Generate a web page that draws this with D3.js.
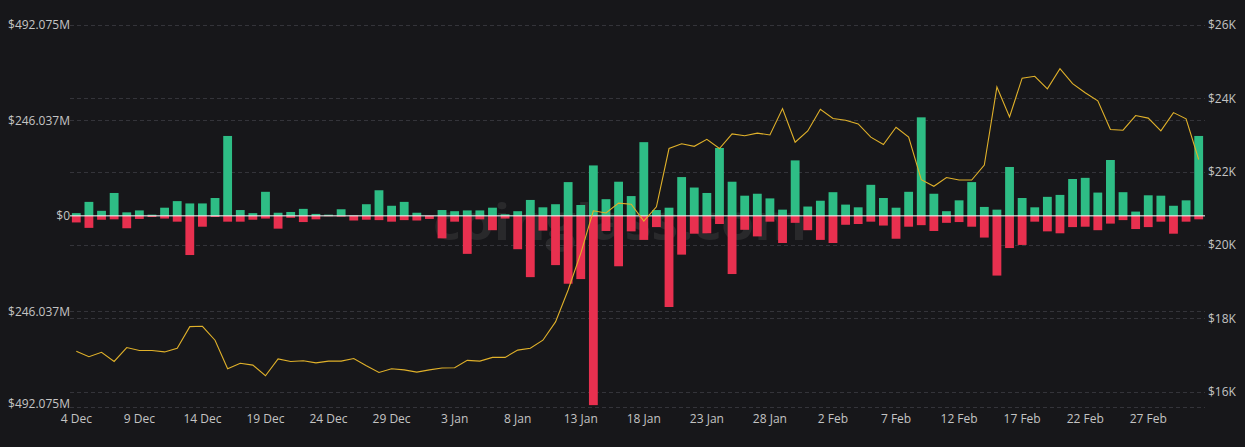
<!DOCTYPE html>
<html>
<head>
<meta charset="utf-8">
<script src="https://cdn.jsdelivr.net/npm/d3@7"></script>
<style>
  body { margin: 0; background: #17171a; }
  svg { display: block; }
</style>
</head>
<body>
<svg id="chart"></svg>
<script>
// daily flows (millions USD) and price (thousands USD), 4 Dec -> 3 Mar
const inflow = [7,36,13,59,9,14,3,21,38,32,32,46,206,15,7,62,8,10,
  18,5,3,17,1,30,66,26,36,8,0,15,12,14,14,21,4,12,41,
  22,30,87,28,130,43,88,51,190,15,21,100,73,59,175,88,52,57,
  45,16,143,24,39,61,29,22,80,46,21,62,254,57,12,40,87,23,
  16,126,46,22,49,54,95,98,60,144,61,11,53,52,26,40,206];

const outflow = [17,31,10,9,32,8,3,7,15,101,28,3,15,15,10,7,33,5,
  16,9,1,2,12,10,11,15,11,12,8,58,15,98,9,37,7,86,158,
  38,127,175,163,488,39,130,40,62,29,235,100,46,45,21,150,36,53,
  15,70,18,37,62,70,23,21,15,25,59,28,24,39,18,16,28,56,
  154,83,75,15,40,45,29,28,37,20,11,34,29,15,46,15,9];

const price = [17.10,16.95,17.07,16.82,17.20,17.12,17.12,17.08,17.18,17.77,17.78,17.40,16.62,16.77,16.72,16.43,16.89,16.82,
  16.84,16.78,16.83,16.83,16.90,16.70,16.52,16.62,16.59,16.53,16.59,16.64,16.65,16.85,16.83,16.93,16.93,17.13,17.18,
  17.40,17.90,18.77,19.77,20.93,20.87,21.14,21.11,20.65,21.04,22.63,22.76,22.69,22.88,22.63,23.03,22.98,23.05,
  23.00,23.72,22.80,23.11,23.70,23.45,23.40,23.30,22.94,22.74,23.21,22.94,21.78,21.60,21.84,21.77,21.77,22.18,
  24.31,23.49,24.55,24.60,24.26,24.81,24.40,24.15,23.93,23.15,23.13,23.53,23.46,23.11,23.61,23.44,22.33];

const days = d3.timeDay.range(new Date(2022, 11, 4), new Date(2023, 2, 4));

const leftTicks = [492.075, 246.037, 0, -246.037, -492.075];
const leftLabels = ["$492.075M", "$246.037M", "$0", "$246.037M", "$492.075M"];
const rightTicks = [16, 18, 20, 22, 24, 26];
const rightLabels = ["$16K", "$18K", "$20K", "$22K", "$24K", "$26K"];

const width = 1245, height = 447;
const plotLeft = 70, plotRight = 1205, plotTop = 25, plotBottom = 406.7;

const svg = d3.select("#chart").attr("width", width).attr("height", height);
svg.append("rect").attr("width", width).attr("height", height).attr("fill", "#17171a");

const x = d3.scaleBand()
  .domain(d3.range(days.length))
  .range([plotLeft, plotRight])
  .paddingInner(0.3)
  .paddingOuter(0.15);

const yL = d3.scaleLinear().domain([-492.075, 492.075]).range([plotBottom, plotTop]);
const yR = d3.scaleLinear().domain([16, 26]).range([391.5, plotTop]);

// grid lines for both axes
const grid = svg.append("g").attr("stroke", "#34343a").attr("stroke-dasharray", "4,3");
grid.selectAll(".gl").data(leftTicks.filter(d => d !== 0)).join("line")
  .attr("x1", plotLeft).attr("x2", plotRight)
  .attr("y1", d => Math.round(yL(d)) + 0.5).attr("y2", d => Math.round(yL(d)) + 0.5);
grid.selectAll(".gr").data(rightTicks).join("line")
  .attr("x1", plotLeft).attr("x2", plotRight)
  .attr("y1", d => Math.round(yR(d)) + 0.5).attr("y2", d => Math.round(yR(d)) + 0.5);

// watermark
svg.append("text")
  .attr("x", 433).attr("y", 240)
  .attr("textLength", 374).attr("lengthAdjust", "spacingAndGlyphs")
  .style("font-family", "'Open Sans', sans-serif")
  .style("font-size", "50px")
  .style("font-weight", 700)
  .attr("fill", "#ffffff").attr("fill-opacity", 0.08)
  .text("coinglass.com");

// bars
svg.append("g").selectAll("rect").data(inflow).join("rect")
  .attr("x", (d, i) => x(i))
  .attr("width", x.bandwidth())
  .attr("y", d => yL(d))
  .attr("height", d => yL(0) - yL(d))
  .attr("fill", "#2ebd85");

svg.append("g").selectAll("rect").data(outflow).join("rect")
  .attr("x", (d, i) => x(i))
  .attr("width", x.bandwidth())
  .attr("y", yL(0))
  .attr("height", d => yL(-d) - yL(0))
  .attr("fill", "#e8304f");

// zero line
svg.append("line")
  .attr("x1", plotLeft).attr("x2", plotRight)
  .attr("y1", yL(0)).attr("y2", yL(0))
  .attr("stroke", "#ffffff").attr("stroke-width", 1);

// price line
svg.append("path")
  .datum(price)
  .attr("fill", "none")
  .attr("stroke", "#e0b12a")
  .attr("stroke-width", 1.1)
  .attr("d", d3.line()
    .x((d, i) => x(i) + x.bandwidth() / 2)
    .y(d => yR(d)));

// axes
const textColor = "#c4c4c4";
function styleAxis(g) {
  g.select(".domain").remove();
  g.selectAll("text")
    .attr("fill", textColor)
    .style("font-family", "'Open Sans', sans-serif")
    .style("font-size", "12px");
}

const leftAxis = svg.append("g")
  .attr("transform", "translate(" + (plotLeft + 1) + ",0)")
  .call(d3.axisLeft(yL).tickValues(leftTicks).tickSize(0).tickPadding(1)
    .tickFormat((d, i) => leftLabels[i]))
  .call(styleAxis);
// bottom label sits a little above its line, as in the original
leftAxis.selectAll(".tick").filter(d => d === -492.075).select("text").attr("y", -3);

svg.append("g")
  .attr("transform", "translate(" + (plotRight + 1) + ",0)")
  .call(d3.axisRight(yR).tickValues(rightTicks).tickSize(0).tickPadding(2)
    .tickFormat((d, i) => rightLabels[i]))
  .call(styleAxis);

const fmt = d3.timeFormat("%-d %b");
svg.append("g")
  .attr("transform", "translate(0," + plotBottom + ")")
  .call(d3.axisBottom(x).tickValues(d3.range(0, days.length, 5)).tickSize(0).tickPadding(8)
    .tickFormat(i => fmt(days[i])))
  .call(styleAxis);
</script>
</body>
</html>
